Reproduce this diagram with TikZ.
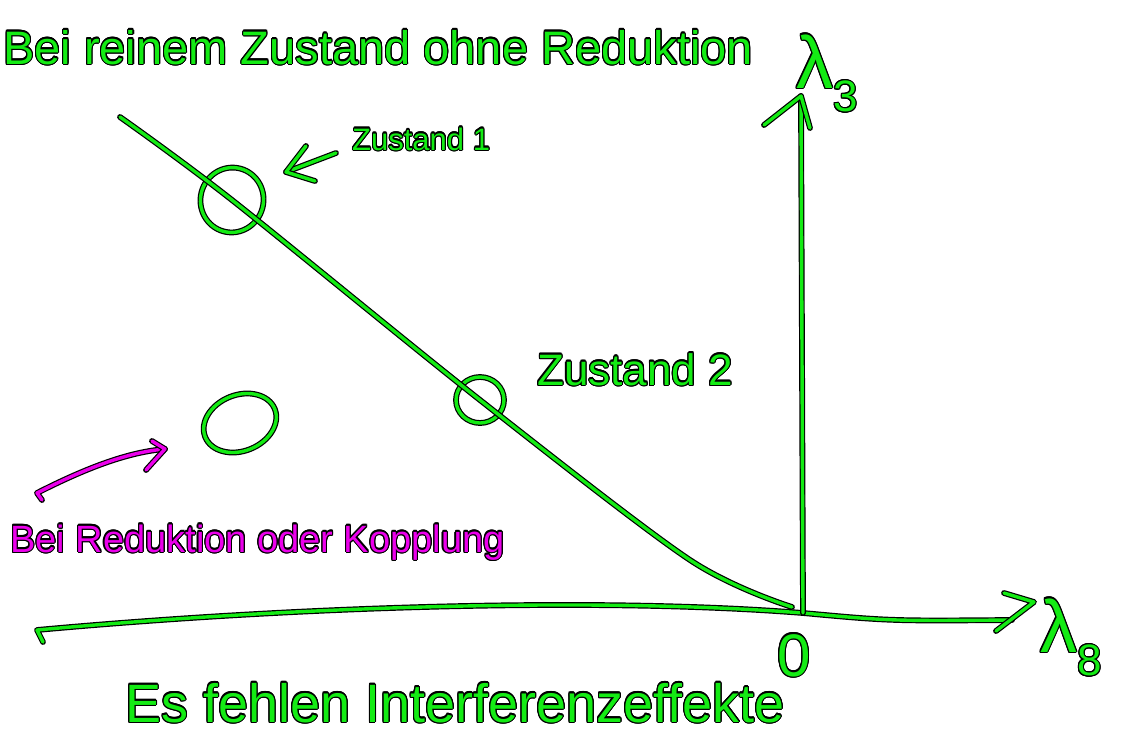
\documentclass[tikz,border=0pt]{standalone}
\usepackage{fontspec}
\setmainfont{Liberation Sans}
\usepackage{contour}
\contourlength{1.1pt}
\usetikzlibrary{shapes.geometric}
\definecolor{pen}{RGB}{20,235,20}
\definecolor{pinkpen}{RGB}{235,0,235}
\tikzset{
  stroke/.style={draw=#1, line width=3.4pt, line cap=round, line join=round,
    preaction={draw=black, line width=5.8pt, line cap=round, line join=round}},
  stroke/.default=pen,
  ring/.style={ellipse, stroke, inner sep=0pt, fill=none},
  hand/.style={inner sep=0pt, anchor=base west, text=#1},
  hand/.default=pen,
}
\newcommand{\outl}[1]{\contour{black}{#1}}
\newcommand{\lamsub}[1]{λ\raisebox{-0.32em}{\fontsize{44}{48}\selectfont #1}}
\begin{document}
\begin{tikzpicture}[x=1pt, y=-1pt]
\useasboundingbox (0,0) rectangle (1125,748);
% axes
\coordinate (O) at (803,613);
\coordinate (xs) at (37,630);
\coordinate (xh) at (43,642);
\coordinate (xe) at (1012,620);
\coordinate (xa) at (1004,593);
\coordinate (xt) at (1034,602);
\coordinate (xb) at (996,631);
\coordinate (ye) at (801,96);
\coordinate (ya) at (764,125);
\coordinate (yb) at (810,128);
\draw[stroke] (xh) -- (xs) .. controls (300,606) and (600,597) .. (O) .. controls (890,621) .. (xe);
\draw[stroke] (xa) -- (xt) -- (xb);
\draw[stroke] (O) -- (ye);
\draw[stroke] (ya) -- (ye) -- (yb);
% states
\node[ring, minimum width=63pt, minimum height=65pt, rotate=-15] (z1) at (232,200) {};
\node[ring, minimum width=48pt, minimum height=46pt] (z2) at (480,400) {};
\node[ring, minimum width=75pt, minimum height=56pt, rotate=22] (z0) at (240,423) {};
% curve of pure states
\coordinate (c0) at (120,117);
\coordinate (c1) at (690,560);
\coordinate (cE) at (792,607);
\draw[stroke] plot[smooth, tension=0.5] coordinates {(c0) (z1.center) (z2.center) (c1) (cE)};
% arrow to Zustand 1
\coordinate (a1s) at (336,153);
\coordinate (a1t) at (286,172);
\coordinate (a1u) at (306,146);
\coordinate (a1l) at (315,181);
\draw[stroke] (a1s) -- (a1t);
\draw[stroke] (a1u) -- (a1t) -- (a1l);
% magenta arrow
\coordinate (m0) at (42,500);
\coordinate (m1) at (37,493);
\coordinate (mt) at (165,449);
\coordinate (mu) at (152,441);
\coordinate (ml) at (146,470);
\draw[stroke=pinkpen] (m0) -- (m1) .. controls (90,466) and (130,452) .. (mt);
\draw[stroke=pinkpen] (mu) -- (mt) -- (ml);
% texts
\node[hand, font=\fontsize{47}{50}\selectfont] (title) at (3,64) {\outl{Bei reinem Zustand ohne Reduktion}};
\node[hand, font=\fontsize{31}{34}\selectfont] (t1) at (352,150) {\outl{Zustand 1}};
\node[hand, font=\fontsize{44}{48}\selectfont] (t2) at (537,385) {\outl{Zustand 2}};
\node[hand=pinkpen, font=\fontsize{38}{42}\selectfont] (tr) at (10,552) {\outl{Bei Reduktion oder Kopplung}};
\node[hand, font=\fontsize{54}{58}\selectfont] (tb) at (125,722) {\outl{Es fehlen Interferenzeffekte}};
\node[hand, font=\fontsize{60}{64}\selectfont] (zero) at (777,676) {\outl{0}};
\node[hand, font=\fontsize{74}{78}\selectfont] (l3) at (796,88) {\outl{\lamsub{3}}};
\node[hand, font=\fontsize{74}{78}\selectfont] (l8) at (1040,652) {\outl{\lamsub{8}}};
\end{tikzpicture}
\end{document}
